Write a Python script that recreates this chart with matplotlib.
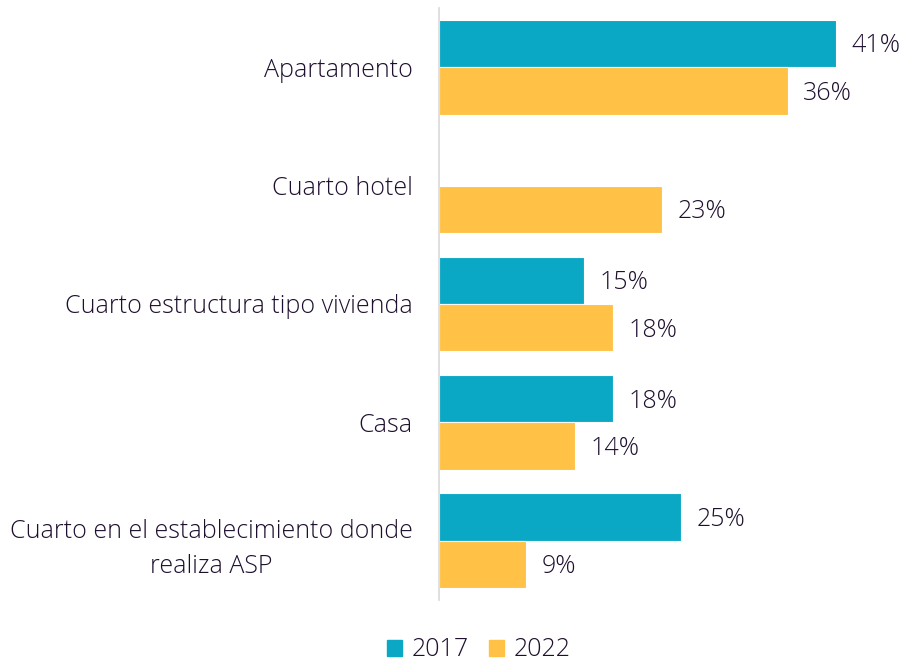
import matplotlib
matplotlib.use("Agg")
import matplotlib.pyplot as plt
import numpy as np
from matplotlib.patches import Patch

categories = ["Apartamento", "Cuarto hotel", "Cuarto estructura tipo vivienda", "Casa",
              "Cuarto en el establecimiento donde\nrealiza ASP"]
v2017 = [41, None, 15, 18, 25]
v2022 = [36, 23, 18, 14, 9]
series_names = ["2017", "2022"]

c2017 = "#0AA8C4"
c2022 = "#FFC247"
txt = "#1E0F2E"

plt.rcParams['font.family'] = ['Open Sans', 'DejaVu Sans']
FS = 18

fig = plt.figure(figsize=(9.06, 6.63), dpi=100)
ax = fig.add_axes([439/906, 1-600/663, 1-439/906, 592/663])

y = np.arange(len(categories))
h = 0.4
for i, (a, b) in enumerate(zip(v2017, v2022)):
    if a is not None:
        ax.barh(i - h/2, a, height=h, color=c2017, edgecolor="white", linewidth=0.8)
        ax.text(a + 1.6, i - h/2 + 0.02, f"{a}%", va="center", ha="left", fontsize=FS,
                color=txt, fontweight="light")
    if b is not None:
        ax.barh(i + h/2, b, height=h, color=c2022, edgecolor="white", linewidth=0.8)
        ax.text(b + 1.6, i + h/2 + 0.02, f"{b}%", va="center", ha="left", fontsize=FS,
                color=txt, fontweight="light")

ax.set_ylim(len(categories) - 0.5, -0.5)
ax.set_xlim(0, (906 - 439) / 9.69)
ax.set_yticks(y)
ax.set_yticklabels(categories, fontsize=FS, color=txt, fontweight="light",
                   multialignment="center", linespacing=1.55)
ax.tick_params(axis="y", length=0, pad=19)
ax.set_xticks([])
for s in ["top", "right", "bottom"]:
    ax.spines[s].set_visible(False)
ax.spines["left"].set_color("#D9D9D9")
ax.spines["left"].set_linewidth(1.2)

handles = [Patch(color=c2017, label=series_names[0]), Patch(color=c2022, label=series_names[1])]
leg = fig.legend(handles=handles, loc="center", bbox_to_anchor=(479/906, 1-650/663), ncol=2,
                 frameon=False, fontsize=FS, handlelength=0.6, handleheight=0.6,
                 handletextpad=0.4, columnspacing=0.8, borderpad=0.1)
for t in leg.get_texts():
    t.set_color(txt)
    t.set_fontweight("light")

fig.savefig("out.png", dpi=100)
